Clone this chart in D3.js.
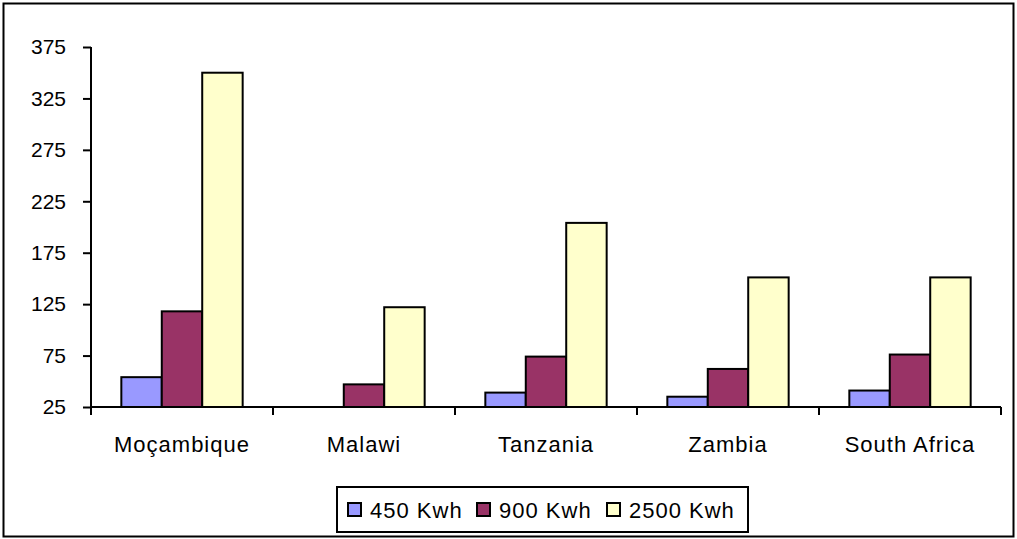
<!DOCTYPE html>
<html>
<head>
<meta charset="utf-8">
<script src="https://cdn.jsdelivr.net/npm/d3@7"></script>
<style>
  html, body { margin: 0; padding: 0; background: #fff; }
  svg { display: block; font-family: Arial, "Liberation Sans", sans-serif; }
</style>
</head>
<body>
<svg id="chart" width="1017" height="539"></svg>
<script>
// Household electricity cost by country and annual consumption band
const categories = ["Moçambique", "Malawi", "Tanzania", "Zambia", "South Africa"];
const seriesNames = ["450 Kwh", "900 Kwh", "2500 Kwh"];
const values450 = [54, null, 39, 35, 41];
const values900 = [118, 47, 74, 62, 76];
const values2500 = [350, 122, 204, 151, 151];
const yTicks = [25, 75, 125, 175, 225, 275, 325, 375];
const colors = ["#9999FF", "#993366", "#FFFFCC"];

const series = [values450, values900, values2500];

const svg = d3.select("#chart");
const W = 1017, H = 539;
const plot = { left: 91, right: 1001, top: 47, bottom: 407 };

// outer frame
svg.append("rect")
  .attr("x", 3.5).attr("y", 3.5)
  .attr("width", W - 7).attr("height", H - 6)
  .attr("fill", "#fff").attr("stroke", "#000").attr("stroke-width", 2);

const y = d3.scaleLinear().domain([25, 375]).range([plot.bottom, plot.top]);
const x = d3.scaleBand().domain(categories).range([plot.left, plot.right]).paddingInner(0).paddingOuter(0);

// bars: three per category, gap of 1.5 bar widths between groups
const bw = x.bandwidth() / 4.5;
const inner = d3.scaleBand().domain(d3.range(series.length))
  .range([0.75 * bw, 0.75 * bw + 3 * bw]);

const barData = [];
series.forEach((vals, si) => {
  vals.forEach((v, ci) => {
    if (v != null && v > 25) barData.push({ cat: categories[ci], s: si, v });
  });
});

svg.append("g").selectAll("rect")
  .data(barData)
  .join("rect")
  .attr("x", d => x(d.cat) + inner(d.s))
  .attr("y", d => y(d.v))
  .attr("width", inner.bandwidth())
  .attr("height", d => y(25) - y(d.v))
  .attr("fill", d => colors[d.s])
  .attr("stroke", "#000")
  .attr("stroke-width", 2);

// y axis
const yAxis = d3.axisLeft(y).tickValues(yTicks).tickSize(8).tickPadding(17).tickFormat(d3.format("d"));
const gy = svg.append("g").attr("transform", `translate(${plot.left},0)`).call(yAxis);
gy.select(".domain").attr("d", `M-0,${plot.top}V${plot.bottom}`).attr("stroke-width", 2);
gy.selectAll(".tick line").attr("stroke-width", 2);
gy.selectAll(".tick text").attr("font-size", 21).attr("fill", "#000")
  .attr("font-family", "Arial, 'Liberation Sans', sans-serif");

// x axis with ticks at category boundaries
const gx = svg.append("g").attr("transform", `translate(0,${plot.bottom})`);
gx.append("line").attr("x1", plot.left).attr("x2", plot.right)
  .attr("stroke", "#000").attr("stroke-width", 2);
const bounds = categories.map(c => x(c)).concat([plot.right]);
gx.selectAll("line.tk").data(bounds).join("line").attr("class", "tk")
  .attr("x1", d => d).attr("x2", d => d).attr("y1", 0).attr("y2", 8)
  .attr("stroke", "#000").attr("stroke-width", 2);
gx.selectAll("text").data(categories).join("text")
  .attr("x", d => x(d) + x.bandwidth() / 2)
  .attr("y", 45)
  .attr("text-anchor", "middle")
  .attr("font-size", 22)
  .attr("letter-spacing", 1)
  .text(d => d);

// legend
const lg = svg.append("g");
lg.append("rect").attr("x", 337).attr("y", 487).attr("width", 411).attr("height", 45)
  .attr("fill", "#fff").attr("stroke", "#000").attr("stroke-width", 2);
const legendX = [348, 477, 607];
seriesNames.forEach((name, i) => {
  lg.append("rect").attr("x", legendX[i]).attr("y", 503).attr("width", 13).attr("height", 13)
    .attr("fill", colors[i]).attr("stroke", "#000").attr("stroke-width", 2);
  lg.append("text").attr("x", legendX[i] + 22).attr("y", 518)
    .attr("font-size", 22).attr("letter-spacing", 1).text(name);
});
</script>
</body>
</html>
